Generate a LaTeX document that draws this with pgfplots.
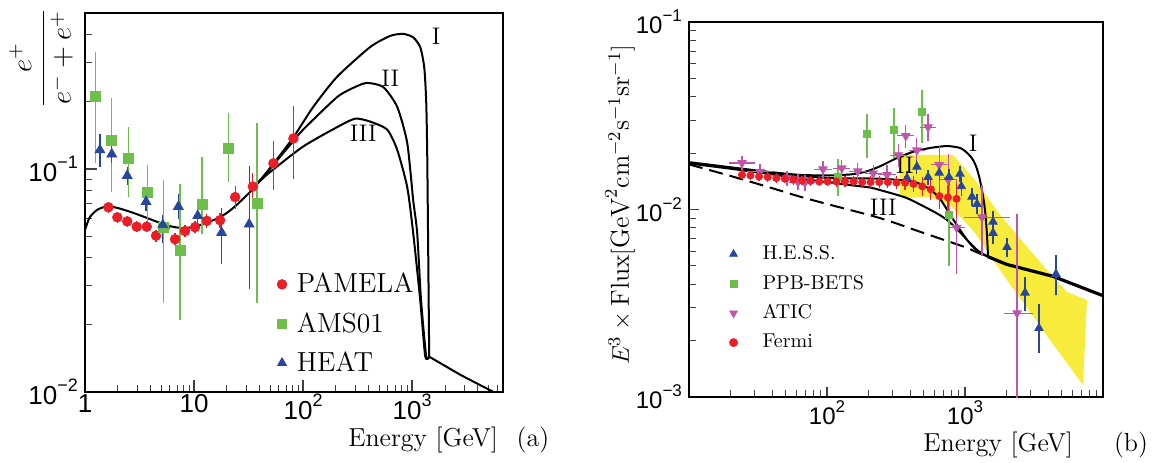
\documentclass[border=0pt]{standalone}
\usepackage{fontspec}
\usepackage{amsmath}
\usepackage{pgfplots}
\pgfplotsset{compat=1.18}
\newfontfamily\tkf{Liberation Sans}
\definecolor{pamred}{RGB}{235,30,40}
\definecolor{amsgreen}{RGB}{110,190,75}
\definecolor{heatblue}{RGB}{40,70,160}
\definecolor{aticmag}{RGB}{190,85,170}
\definecolor{band}{RGB}{247,235,60}
% sans tick labels with raised exponent
\newcommand\tpa[1]{10\raisebox{0.5em}{\fontsize{9}{9}\selectfont #1}}
\newcommand\tpb[1]{10\raisebox{0.5em}{\fontsize{8.5}{9}\selectfont #1}}
\begin{document}
\begin{tikzpicture}
\useasboundingbox (-42.5pt,-35pt) rectangle (536.5pt,196pt);

% ---------------- (a) positron fraction ----------------
\begin{axis}[name=A, at={(0pt,0pt)}, anchor=south west,
  scale only axis, width=209pt, height=189.5pt,
  xmode=log, ymode=log,
  xmin=1, xmax=6800, ymin=0.01, ymax=0.5,
  tick pos=left, tick align=inside,
  major tick length=6pt, minor tick length=3.5pt,
  major tick style={black!75, line width=0.7pt},
  minor tick style={black!75, line width=0.5pt},
  axis line style={line width=0.8pt},
  xtick={1,10,100,1000}, xticklabels={1,10,\tpa{2},\tpa{3}},
  minor xtick={2,3,4,5,6,7,8,9,20,30,40,50,60,70,80,90,200,300,400,500,600,700,800,900,2000,3000,4000,5000,6000},
  ytick={0.01,0.1}, yticklabels={\tpa{−2},\tpa{−1}},
  minor ytick={0.02,0.03,0.04,0.05,0.06,0.07,0.08,0.09,0.2,0.3,0.4},
  tick label style={font=\tkf\fontsize{13}{15}\selectfont},
  xticklabel style={inner sep=0pt, yshift=-1pt},
  legend cell align=left,
  legend style={draw=none, fill=none, at={(rel axis cs:0.459,0.315)}, anchor=north west,
    font=\fontsize{13.8}{16}\selectfont, row sep=8.3pt, column sep=5pt, inner sep=0pt,
    nodes={inner sep=0pt}},
]
% model curves I, II, III
\addplot[black, line width=1pt, smooth, tension=0.4, forget plot] coordinates {
 (1,0.0532) (1.1,0.0605) (1.29,0.0655) (1.59,0.068) (2.0,0.0668) (2.76,0.0636)
 (3.8,0.0600) (4.87,0.0573) (6.2,0.0552) (7.9,0.0543) (10,0.0550) (13.1,0.0573)
 (16.5,0.0602) (20.1,0.0636) (25,0.0695) (32.6,0.0789) (42,0.091)
 (53,0.105) (81,0.138) (124,0.190) (205,0.259) (412,0.352) (629,0.395) (827,0.403)
 (1021,0.389) (1184,0.352) (1289,0.286) (1343,0.204) (1372,0.122) (1397,0.0517) (1432,0.0144)};
\addplot[black, line width=1pt, smooth, tension=0.4, forget plot] coordinates {
 (32.6,0.0789) (42,0.091) (53,0.104) (81,0.133) (100,0.150) (205,0.210) (300,0.233)
 (386,0.243) (542,0.233) (728,0.190) (900,0.131) (1021,0.0726) (1111,0.0517)
 (1205,0.0259) (1343,0.0145) (1432,0.0144)};
\addplot[black, line width=1pt, smooth, tension=0.4, forget plot] coordinates {
 (32.6,0.0789) (40,0.088) (50,0.097) (100,0.126) (205,0.154) (300,0.168) (412,0.163)
 (590,0.150) (728,0.122) (900,0.083) (1021,0.0517) (1184,0.0259) (1316,0.0145) (1432,0.0144)};
\addplot[black, line width=1pt, forget plot] coordinates {
 (1432,0.0144) (2800,0.0119) (5570,0.0100)};
% PAMELA
\addplot[only marks, mark=*, pamred, mark size=2.4pt, forget plot,
  error bars/.cd, y dir=both, y explicit, error bar style={line width=0.6pt},
  error mark options={line width=0.6pt, mark size=1.8pt}] coordinates {
 (1.64,0.0673) +- (0,0.0012) (1.98,0.0607) +- (0,0.0012) (2.44,0.0582) +- (0,0.0012)
 (2.98,0.0551) +- (0,0.0012) (3.68,0.0551) +- (0,0.0012) (4.48,0.0502) +- (0,0.0012)
 (5.42,0.0548) +- (0,0.0012) (6.7,0.0484) +- (0,0.0012) (8.27,0.0527) +- (0,0.0013)
 (10.2,0.0548) +- (0,0.0015) (13.1,0.0585) +- (0,0.0018) (17.3,0.0589) +- (0,0.0025)
 (23.8,0.0748) += (0,0.0062) -= (0,0.0064) (34.6,0.0834) +- (0,0.009)
 (53.4,0.106) += (0,0.022) -= (0,0.0226) (81.5,0.137) += (0,0.048) -= (0,0.043)};
% AMS01
\addplot[only marks, mark=square*, amsgreen, mark size=2.5pt, forget plot,
  error bars/.cd, y dir=both, y explicit, error bar style={line width=0.6pt},
  error mark options={line width=0.6pt, mark size=1.8pt}] coordinates {
 (1.25,0.211) += (0,0.110) -= (0,0.101) (1.76,0.134) += (0,0.066) -= (0,0.052)
 (2.50,0.112) += (0,0.036) -= (0,0.034) (3.73,0.0783) += (0,0.0224) -= (0,0.0212)
 (5.23,0.0548) += (0,0.0315) -= (0,0.0287) (7.44,0.0431) += (0,0.0394) -= (0,0.0212)
 (11.8,0.0692) += (0,0.040) -= (0,0.0163) (20.6,0.124) += (0,0.048) -= (0,0.033)
 (37.8,0.0702) += (0,0.085) -= (0,0.0441)};
% HEAT
\addplot[only marks, mark=triangle*, heatblue, mark size=2.8pt, forget plot,
  error bars/.cd, y dir=both, y explicit, error bar style={line width=0.6pt},
  error mark options={line width=0.6pt, mark size=1.8pt}] coordinates {
 (1.37,0.1216) +- (0,0.016) (1.76,0.1164) +- (0,0.006) (2.44,0.0933) +- (0,0.005)
 (3.63,0.0713) +- (0,0.004) (5.16,0.0561) += (0,0.004) -= (0,0.008)
 (7.18,0.0678) += (0,0.0065) -= (0,0.0061) (10.8,0.0617) +- (0,0.004)
 (17.9,0.0518) += (0,0.0125) -= (0,0.0127) (32.0,0.0565) += (0,0.0425) -= (0,0.0265)};
\addlegendimage{only marks, mark=*, pamred, mark size=2.4pt}
\addlegendentry{PAMELA}
\addlegendimage{only marks, mark=square*, amsgreen, mark size=2.2pt}
\addlegendentry{AMS01}
\addlegendimage{only marks, mark=triangle*, heatblue, mark size=2.6pt}
\addlegendentry{HEAT}
\node[font=\fontsize{12}{14}\selectfont] at (axis cs:1660,0.394) {I};
\node[font=\fontsize{12}{14}\selectfont] at (axis cs:629,0.256) {II};
\node[font=\fontsize{12}{14}\selectfont] at (axis cs:355,0.145) {III};
\end{axis}
\node[rotate=90] at ([xshift=-22pt,yshift=167pt]A.south west)
  {\fontsize{14.8}{18}\selectfont$\dfrac{e^{+}}{e^{-}+e^{+}}$};
\node[anchor=base east, inner sep=0pt, font=\fontsize{13}{15}\selectfont]
  at ([xshift=-2.3pt,yshift=-27pt]A.south east) {Energy [GeV]};
\node[anchor=base, font=\fontsize{13}{15}\selectfont]
  at ([xshift=15pt,yshift=-27pt]A.south east) {(a)};

% ---------------- (b) electron spectrum ----------------
\begin{axis}[name=B, at={(302pt,-2.5pt)}, anchor=south west,
  scale only axis, width=207pt, height=187.5pt,
  xmode=log, ymode=log,
  xmin=10, xmax=10000, ymin=0.001, ymax=0.1,
  tick pos=left, tick align=inside,
  major tick length=5pt, minor tick length=3.5pt,
  major tick style={black!75, line width=0.7pt},
  minor tick style={black!75, line width=0.5pt},
  axis line style={line width=0.8pt},
  xtick={10,100,1000,10000}, xticklabels={,\tpb{2},\tpb{3},},
  minor xtick={20,30,40,50,60,70,80,90,200,300,400,500,600,700,800,900,2000,3000,4000,5000,6000,7000,8000,9000},
  ytick={0.001,0.01,0.1}, yticklabels={\tpb{−3},\tpb{−2},\tpb{−1}},
  minor ytick={0.002,0.003,0.004,0.005,0.006,0.007,0.008,0.009,0.02,0.03,0.04,0.05,0.06,0.07,0.08,0.09},
  tick label style={font=\tkf\fontsize{12}{14}\selectfont},
  xticklabel style={inner sep=0pt, yshift=-1.5pt},
  legend cell align=left,
  legend style={draw=none, fill=none, at={(rel axis cs:0.097,0.405)}, anchor=north west,
    font=\fontsize{10}{12}\selectfont, row sep=6.2pt, column sep=12.5pt, inner sep=0pt,
    nodes={inner sep=0pt}},
]
% systematic band
\addplot[fill=band, draw=none, forget plot] coordinates {
 (338,0.01954) (818,0.01954) (1181,0.01436) (1794,0.00935) (3490,0.00525) (5485,0.00363)
 (7655,0.00329) (7161,0.00116) (4131,0.00201) (2014,0.0042) (1181,0.0075) (778,0.01057)
 (557,0.01166) (338,0.01166)} -- cycle;
% background (dashed) and models
\addplot[black, line width=1pt, dash pattern=on 7pt off 3.5pt, smooth, forget plot] coordinates {
 (10,0.0174) (20,0.0151) (40,0.0130) (64,0.0117) (100,0.0107) (242,0.0090) (500,0.0075)
 (1000,0.0063) (1222,0.0059) (1469,0.0056)};
\addplot[black, line width=1pt, smooth, tension=0.4, forget plot] coordinates {
 (10,0.0179) (20,0.0168) (40,0.0158) (64,0.0153) (100,0.0152) (150,0.0154) (195,0.0160)
 (242,0.0170) (320,0.0188) (420,0.0203) (560,0.0213) (741,0.0218) (920,0.0213)
 (1040,0.0200) (1143,0.0184) (1220,0.0165) (1285,0.0143) (1350,0.0118) (1397,0.0099)
 (1440,0.0075) (1469,0.0056)};
\addplot[black, line width=1pt, smooth, tension=0.4, forget plot] coordinates {
 (10,0.0177) (20,0.0167) (40,0.0157) (64,0.0151) (110,0.0147) (242,0.0146) (420,0.0141)
 (550,0.0129) (659,0.0114) (818,0.0089) (1032,0.0069) (1285,0.0059) (1469,0.0056)};
\addplot[black, line width=1pt, smooth, tension=0.4, forget plot] coordinates {
 (10,0.0176) (20,0.0165) (40,0.0154) (64,0.0146) (110,0.0139) (147,0.0135) (205,0.0131)
 (242,0.0127) (380,0.0115) (600,0.0097) (741,0.0088) (900,0.0077) (1032,0.0069)
 (1200,0.0061) (1469,0.0056)};
\addplot[black, line width=1.6pt, forget plot] coordinates {
 (1469,0.0056) (2000,0.0051) (4345,0.0044) (10000,0.00347)};
% PPB-BETS
\addplot[only marks, mark=square*, amsgreen, mark size=1.7pt, forget plot,
  error bars/.cd, y dir=both, y explicit, error bar style={line width=0.6pt},
  error mark options={line width=0.6pt, mark size=1.5pt}] coordinates {
 (120,0.0149) += (0,0.0030) -= (0,0.0027) (195,0.0253) += (0,0.0058) -= (0,0.0058)
 (306,0.0266) += (0,0.0069) -= (0,0.0071) (488,0.0331) += (0,0.0087) -= (0,0.0096)
 (765,0.0094) += (0,0.0041) -= (0,0.0042)};
% ATIC
\addplot[only marks, mark=triangle*, mark options={rotate=180}, aticmag, mark size=2.4pt,
  forget plot, error bars/.cd, x dir=both, x explicit, y dir=both, y explicit,
  error bar style={line width=0.6pt},
  error mark options={line width=0.6pt, mark size=1.6pt}] coordinates {
 (24.2,0.0177) += (4.5,0.0009) -= (3.8,0.0009) (32.7,0.0159) += (5.5,0.0009) -= (4.8,0.0009)
 (51.3,0.0147) += (6,0.0008) -= (5,0.0008) (61.6,0.0140) += (7,0.0008) -= (6,0.0008)
 (69.2,0.0139) += (8,0.0008) -= (7,0.0008) (93.5,0.0164) += (10,0.0010) -= (9,0.0010)
 (128,0.0166) += (12,0.0010) -= (11,0.0010) (167,0.0160) += (15,0.0010) -= (14,0.0010)
 (216,0.0156) += (20,0.0011) -= (18,0.0011) (272,0.0153) += (26,0.0014) -= (24,0.0014)
 (328,0.0195) += (30,0.0020) -= (28,0.0020) (372,0.0247) += (34,0.0025) -= (30,0.0025)
 (448,0.0207) += (40,0.0025) -= (36,0.0025) (540,0.0275) += (48,0.0035) -= (44,0.0035)
 (650,0.0173) += (55,0.0040) -= (50,0.0035) (756,0.0144) += (65,0.0045) -= (60,0.0040)
 (870,0.0080) += (70,0.0060) -= (65,0.0033) (1328,0.0091) += (688,0.0039) -= (293,0.0032)
 (2383,0.0028) += (583,0.0063) -= (369,0.0020)};
% H.E.S.S.
\addplot[only marks, mark=triangle*, heatblue, mark size=2.4pt, forget plot,
  error bars/.cd, y dir=both, y explicit, error bar style={line width=0.6pt},
  error mark options={line width=0.6pt, mark size=1.5pt}] coordinates {
 (380,0.0147) +- (0,0.0007) (448,0.0169) +- (0,0.0008) (540,0.0149) +- (0,0.0008)
 (650,0.0157) +- (0,0.0009) (765,0.0149) +- (0,0.0009) (920,0.0155) +- (0,0.0010)
 (940,0.0133) +- (0,0.0010) (1124,0.0117) +- (0,0.0009) (1222,0.0107) +- (0,0.0009)
 (1596,0.0086) +- (0,0.0009) (1596,0.0075) +- (0,0.0007) (2014,0.0063) +- (0,0.0005)
 (2722,0.0036) +- (0,0.0006) (3435,0.00233) += (0,0.0007) -= (0,0.00055)
 (4563,0.00453) += (0,0.0010) -= (0,0.0009)};
% Fermi
\addplot[only marks, mark=*, pamred, mark size=1.8pt, forget plot,
  error bars/.cd, y dir=both, y explicit, error bar style={line width=0.6pt},
  error mark options={line width=0.6pt, mark size=1.5pt}] coordinates {
 (24.2,0.0153) +- (0,0.0003) (27.9,0.0152) +- (0,0.0003) (32.2,0.0150) +- (0,0.0003)
 (37.2,0.0149) +- (0,0.0003) (42.9,0.0147) +- (0,0.0003) (49.5,0.0146) +- (0,0.0003)
 (57.1,0.0144) +- (0,0.0003) (65.9,0.0143) +- (0,0.0003) (76.1,0.0142) +- (0,0.0003)
 (87.8,0.0141) +- (0,0.0003) (101,0.0141) +- (0,0.0003) (117,0.0141) +- (0,0.0004)
 (135,0.0141) +- (0,0.0004) (156,0.0141) +- (0,0.0004) (180,0.0140) +- (0,0.0004)
 (207,0.0140) +- (0,0.0005) (239,0.0140) +- (0,0.0005) (276,0.0140) +- (0,0.0005)
 (319,0.0139) +- (0,0.0006) (368,0.0139) +- (0,0.0007) (424,0.0137) +- (0,0.0008)
 (490,0.0133) +- (0,0.0010) (565,0.0128) +- (0,0.0012) (652,0.0118) +- (0,0.0013)
 (752,0.0116) +- (0,0.0015) (868,0.0114) +- (0,0.0020)};
\addlegendimage{only marks, mark=triangle*, heatblue, mark size=2.2pt}
\addlegendentry{H.E.S.S.}
\addlegendimage{only marks, mark=square*, amsgreen, mark size=1.8pt}
\addlegendentry{PPB-BETS}
\addlegendimage{only marks, mark=triangle*, mark options={rotate=180}, aticmag, mark size=2.2pt}
\addlegendentry{ATIC}
\addlegendimage{only marks, mark=*, pamred, mark size=2pt}
\addlegendentry{Fermi}
\node[font=\fontsize{12}{14}\selectfont] at (axis cs:1143,0.0226) {I};
\node[font=\fontsize{12}{14}\selectfont] at (axis cs:367,0.0172) {II};
\node[font=\fontsize{12}{14}\selectfont] at (axis cs:256,0.0103) {III};
\end{axis}
\node[rotate=90, font=\fontsize{13}{15}\selectfont] at ([xshift=-34.5pt,yshift=96pt]B.south west)
  {$E^3\times\mathrm{Flux}[\mathrm{GeV}^2\mathrm{cm}^{-2}\mathrm{s}^{-1}\mathrm{sr}^{-1}]$};
\node[anchor=base east, inner sep=0pt, font=\fontsize{13}{15}\selectfont]
  at ([xshift=-14.8pt,yshift=-27pt]B.south east) {Energy [GeV]};
\node[anchor=base, font=\fontsize{13}{15}\selectfont]
  at ([xshift=14pt,yshift=-27pt]B.south east) {(b)};
\end{tikzpicture}
\end{document}
